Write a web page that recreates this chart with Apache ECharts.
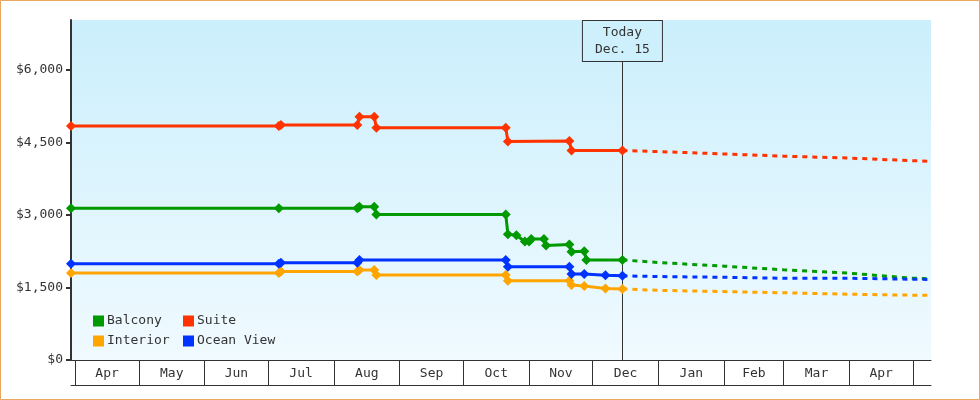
<!DOCTYPE html>
<html><head><meta charset="utf-8">
<script src="https://cdn.jsdelivr.net/npm/echarts@6/dist/echarts.min.js"></script>
<style>html,body{margin:0;padding:0;background:#fff}#c{width:980px;height:400px}</style>
</head><body><div id="c"></div>
<script>
// ---- data ----
const monthLabels = ['Apr','May','Jun','Jul','Aug','Sep','Oct','Nov','Dec','Jan','Feb','Mar','Apr'];
const monthStarts = ['2014-04-01','2014-05-01','2014-06-01','2014-07-01','2014-08-01','2014-09-01','2014-10-01','2014-11-01','2014-12-01','2015-01-01','2015-02-01','2015-03-01','2015-04-01','2015-05-01'];
const yTicks = [0, 1500, 3000, 4500, 6000];
const todayDate = '2014-12-15';
const todayText = 'Today\nDec. 15';
const xStart = '2014-03-30';
const xEnd = '2015-05-09';

const balconyDates = ['2014-03-30','2014-07-06','2014-08-12','2014-08-13','2014-08-20','2014-08-21','2014-10-21','2014-10-22','2014-10-26','2014-10-30','2014-11-01','2014-11-02','2014-11-08','2014-11-09','2014-11-20','2014-11-21','2014-11-27','2014-11-28','2014-12-15'];
const balconyValues = [3140,3140,3140,3170,3170,3010,3010,2600,2580,2450,2450,2500,2500,2370,2390,2240,2250,2070,2070];

const suiteDates = ['2014-03-30','2014-07-06','2014-07-07','2014-08-12','2014-08-13','2014-08-20','2014-08-21','2014-10-21','2014-10-22','2014-11-20','2014-11-21','2014-12-15'];
const suiteValues = [4840,4840,4860,4860,5030,5030,4800,4800,4520,4530,4330,4330];

const interiorDates = ['2014-03-30','2014-07-06','2014-07-07','2014-08-12','2014-08-13','2014-08-20','2014-08-21','2014-10-21','2014-10-22','2014-11-20','2014-11-21','2014-11-27','2014-12-07','2014-12-15'];
const interiorValues = [1800,1800,1830,1830,1860,1860,1760,1760,1640,1640,1550,1530,1480,1470];

const oceanDates = ['2014-03-30','2014-07-06','2014-07-07','2014-08-12','2014-08-13','2014-10-21','2014-10-22','2014-11-20','2014-11-21','2014-11-27','2014-12-07','2014-12-15'];
const oceanValues = [1990,1990,2010,2010,2070,2070,1930,1930,1780,1780,1750,1740];

const forecastDates = ['2014-12-15','2015-01-01','2015-02-01','2015-03-01','2015-04-01','2015-05-01','2015-05-09'];
const balconyForecast = [2070,2015,1940,1865,1795,1690,1680];
const suiteForecast = [4330,4310,4260,4215,4175,4120,4110];
const interiorForecast = [1470,1440,1415,1390,1360,1340,1338];
const oceanForecast = [1740,1725,1710,1690,1690,1670,1665];

// ---- helpers ----
function toTime(s) { const p = s.split('-').map(Number); return new Date(p[0], p[1]-1, p[2]).getTime(); }
function pairs(dates, vals) { return dates.map((d, i) => [toTime(d), vals[i]]); }

const FONT = 'DejaVu Sans Mono';
const C = { balcony: '#009900', suite: '#ff3300', interior: '#ffa500', ocean: '#0033ff' };
const yMax = 7030;
const gridTop = 20, gridBottom = 40, H = 400;
const plotH = H - gridTop - gridBottom;
const boxH = 41;
const boxBottomVal = yMax * (1 - boxH / plotH);

const tickTimes = monthStarts.map(toTime);
const labelTimes = [];
for (let i = 0; i < tickTimes.length - 1; i++) labelTimes.push((tickTimes[i] + tickTimes[i+1]) / 2);
function monthFor(v) {
  let best = 0, bd = Infinity;
  labelTimes.forEach((t, i) => { const d = Math.abs(t - v); if (d < bd) { bd = d; best = i; } });
  return monthLabels[best];
}

function histSeries(name, color, dates, vals) {
  return {
    name, type: 'line', data: pairs(dates, vals), z: 3,
    symbol: 'diamond', symbolSize: 10, showSymbol: true,
    lineStyle: { color, width: 3 }, itemStyle: { color },
    emphasis: { disabled: true }, animation: false
  };
}
function fcSeries(name, color, vals) {
  return {
    name: name + ' forecast', type: 'line', data: pairs(forecastDates, vals), z: 2,
    symbol: 'none', lineStyle: { color, width: 3, type: [5, 5] }, itemStyle: { color },
    emphasis: { disabled: true }, animation: false
  };
}

const legendCommon = {
  orient: 'vertical', top: 314, padding: 0, itemWidth: 11, itemHeight: 11, itemGap: 6,
  icon: 'rect', selectedMode: false,
  textStyle: { fontFamily: FONT, fontSize: 13, color: '#333', lineHeight: 14, padding: [0, 0, 0, -2] }
};

const chart = echarts.init(document.getElementById('c'), null, { renderer: 'canvas' });
const series = [
  histSeries('Balcony', C.balcony, balconyDates, balconyValues),
  histSeries('Suite', C.suite, suiteDates, suiteValues),
  histSeries('Interior', C.interior, interiorDates, interiorValues),
  histSeries('Ocean View', C.ocean, oceanDates, oceanValues),
  fcSeries('Balcony', C.balcony, balconyForecast),
  fcSeries('Suite', C.suite, suiteForecast),
  fcSeries('Interior', C.interior, interiorForecast),
  fcSeries('Ocean View', C.ocean, oceanForecast),
];
series.push({
  name: 'today', type: 'line', data: [], z: 1,
  markLine: {
    silent: true, z: 1, symbol: ['none', 'none'], animation: false,
    lineStyle: { color: '#333', width: 1, type: 'solid' },
    label: {
      show: true, position: 'end', distance: 0, formatter: todayText,
      fontFamily: FONT, fontSize: 13, color: '#333', lineHeight: 17,
      backgroundColor: '#cdf0fc', borderColor: '#333', borderWidth: 1,
      width: 79, align: 'center', padding: [3, 0, 3, 0]
    },
    emphasis: { disabled: true },
    data: [[{ coord: [toTime(todayDate), 0] }, { coord: [toTime(todayDate), boxBottomVal] }]]
  }
});

const xMinV = toTime(xStart), xMaxV = toTime(xEnd) + 12 * 3600e3;

chart.setOption({
  animation: false,
  backgroundColor: '#ffffff',
  grid: {
    left: 71, right: 49, top: gridTop, bottom: gridBottom, show: true, borderWidth: 0,
    backgroundColor: new echarts.graphic.LinearGradient(0, 0, 0, 1, [
      { offset: 0, color: '#cbeffc' }, { offset: 1, color: '#f0faff' }
    ])
  },
  legend: [
    Object.assign({}, legendCommon, { left: 93, data: ['Balcony', 'Interior'] }),
    Object.assign({}, legendCommon, { left: 183, data: ['Suite', 'Ocean View'] })
  ],
  xAxis: [{
    type: 'value', min: xMinV, max: xMaxV, scale: true,
    axisLine: { show: true, lineStyle: { color: '#333', width: 1 } },
    axisTick: { show: true, inside: false, length: 25, customValues: tickTimes, lineStyle: { color: '#333', width: 1 } },
    axisLabel: { show: true, customValues: labelTimes, formatter: (v) => monthFor(v), margin: 7,
      fontFamily: FONT, fontSize: 13, color: '#333', hideOverlap: false, showMinLabel: true, showMaxLabel: true },
    splitLine: { show: false }
  }, {
    type: 'value', min: xMinV, max: xMaxV, scale: true, position: 'bottom', offset: 25,
    axisLine: { show: true, lineStyle: { color: '#333', width: 1 } },
    axisTick: { show: false }, axisLabel: { show: false }, splitLine: { show: false }
  }],
  yAxis: {
    type: 'value', min: 0, max: yMax,
    axisLine: { show: true, lineStyle: { color: '#333', width: 2 } },
    axisTick: { show: true, length: 5, customValues: yTicks, lineStyle: { color: '#333', width: 2 } },
    axisLabel: { customValues: yTicks, margin: 8, fontFamily: FONT, fontSize: 13, color: '#333',
      formatter: (v) => '$' + v.toLocaleString('en-US') },
    splitLine: { show: false }
  },
  graphic: [{
    type: 'rect', silent: true, z: 100,
    shape: { x: 0.5, y: 0.5, width: 979, height: 399 },
    style: { fill: 'none', stroke: '#e9a961', lineWidth: 1 }
  }],
  series
});
</script></body></html>
